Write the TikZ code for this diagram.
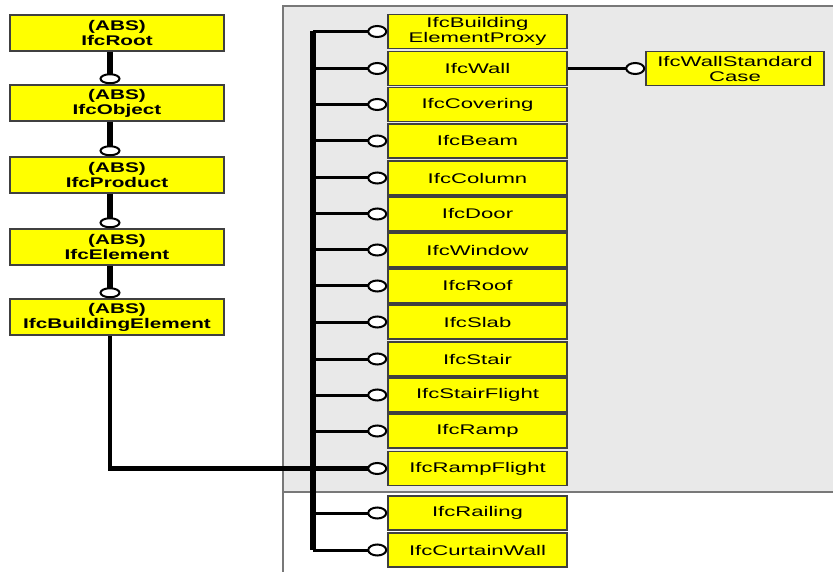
\documentclass[tikz,border=0pt]{standalone}
\usepackage{fontspec}
\newfontfamily\ifcfont{Liberation Sans}[FakeStretch=1.58]
\newfontfamily\ifcbold{Liberation Sans Bold}[FakeStretch=1.48]
\usetikzlibrary{arrows.meta}
\definecolor{panelgray}{RGB}{233,233,233}
\definecolor{panelline}{RGB}{120,120,120}
\definecolor{ifcyellow}{RGB}{255,255,0}

\tikzset{
  ifcbox/.style={draw=black!75, line width=1.5pt, fill=ifcyellow, align=center,
    inner sep=0pt, font=\ifcfont\fontsize{14}{15}\selectfont},
  absbox/.style={ifcbox, minimum width=214pt, minimum height=36pt, font=\ifcbold\fontsize{14}{15}\selectfont},
  subbox/.style={ifcbox, minimum width=179pt, minimum height=34pt},
  vlink/.style={line width=6pt, -{Circle[fill=white, line width=2pt, length=11pt, width=21pt]}},
  hlink/.style={line width=3pt, -{Circle[fill=white, line width=2pt, length=20pt, width=13pt]}},
}

\begin{document}
\begin{tikzpicture}[x=1pt, y=-1pt]
  \useasboundingbox (0,0) rectangle (833,572);

  % panel
  \fill [panelgray] (283,6) rectangle (840,492);
  \draw [panelline, line width=1.5pt] (840,6) -- (283,6) -- (283,580);
  \draw [panelline, line width=1.5pt] (283,492) -- (840,492);

  % abstract chain
  \node [absbox] (root)    at (117,33)  {(ABS)\\IfcRoot};
  \node [absbox] (object)  at (117,103) {(ABS)\\IfcObject};
  \node [absbox] (product) at (117,175) {(ABS)\\IfcProduct};
  \node [absbox] (element) at (117,247) {(ABS)\\IfcElement};
  \node [absbox] (buildel) at (117,317) {(ABS)\\IfcBuildingElement};

  \draw [vlink] ([xshift=-7pt]root.south)    -- ([xshift=-7pt]object.north);
  \draw [vlink] ([xshift=-7pt]object.south)  -- ([xshift=-7pt]product.north);
  \draw [vlink] ([xshift=-7pt]product.south) -- ([xshift=-7pt]element.north);
  \draw [vlink] ([xshift=-7pt]element.south) -- ([xshift=-7pt]buildel.north);

  % subtypes
  \foreach \name/\y/\txt in {
      proxy/31.5/{IfcBuilding\\ElementProxy},
      wall/68.5/IfcWall,
      covering/104.5/IfcCovering,
      beam/141/IfcBeam,
      column/178/IfcColumn,
      door/214/IfcDoor,
      window/250/IfcWindow,
      roof/286/IfcRoof,
      slab/322/IfcSlab,
      stair/359/IfcStair,
      stairflight/395/IfcStairFlight,
      ramp/431/IfcRamp,
      rampflight/468.5/IfcRampFlight,
      railing/513/IfcRailing,
      curtainwall/550/IfcCurtainWall}
    \node [subbox] (\name) at (477.5,\y) {\txt};

  \node [subbox, minimum width=178pt] (wallsc) at (735,68.5) {IfcWallStandard\\Case};

  % bus
  \coordinate (bustop) at (313,31.5);
  \draw [line width=6.5pt] (bustop) -- (bustop |- curtainwall.west);
  \foreach \name in {proxy,wall,covering,beam,column,door,window,roof,slab,stair,stairflight,ramp,railing,curtainwall}
    \draw [hlink] (bustop |- \name.west) -- (\name.west);

  \draw [hlink, line width=4.5pt] ([xshift=-7pt]buildel.south) |- (rampflight.west);
  \draw [hlink] (wall.east) -- (wallsc.west);
\end{tikzpicture}
\end{document}
